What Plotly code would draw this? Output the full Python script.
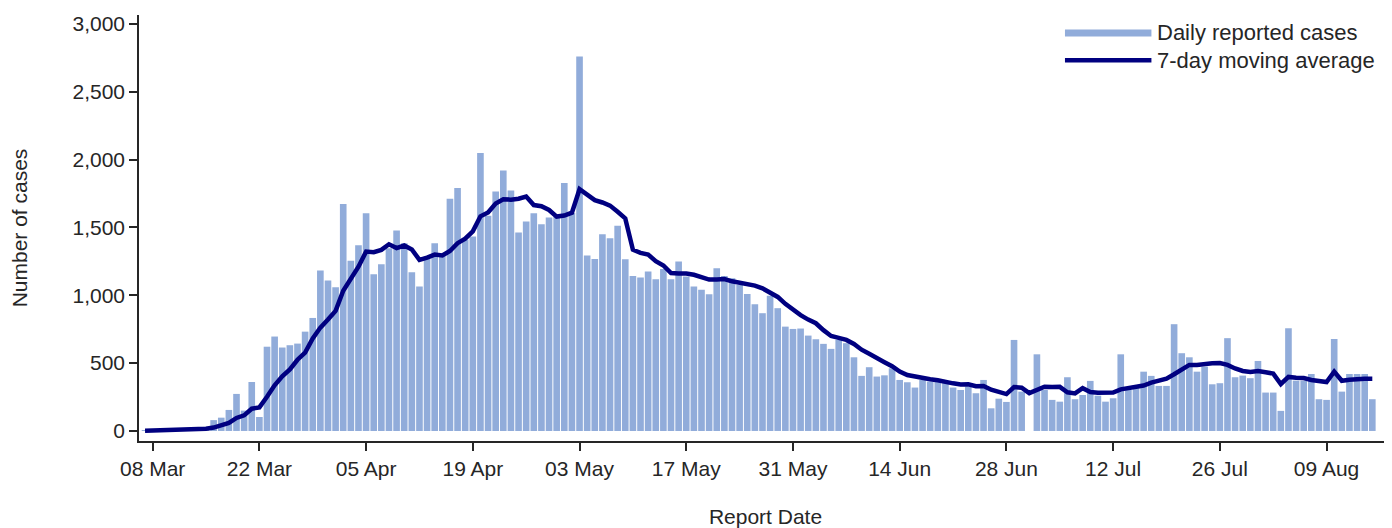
import pandas as pd
import plotly.graph_objects as go

# Daily reported cases, 07 Mar - 15 Aug 2020
start_date = "2020-03-07"
cases_mar = [3, 5, 6, 8, 10, 12, 15, 20, 30, 80, 98, 155, 273, 150, 361, 103, 621, 696,
             615, 632, 644, 732, 833, 1182, 1109]
cases_apr = [1060, 1672, 1254, 1369, 1605, 1155, 1229, 1347, 1477, 1384,
             1170, 1064, 1273, 1384, 1298, 1711, 1790, 1409, 1433, 2048,
             1586, 1765, 1920, 1772, 1463, 1544, 1605, 1524, 1573, 1580]
cases_may = [1827, 1607, 2760, 1293, 1268, 1450, 1421, 1512, 1266, 1143,
             1131, 1175, 1119, 1193, 1119, 1249, 1138, 1064, 1040, 1008,
             1200, 1143, 1126, 1077, 1010, 934, 868, 996, 905, 769, 752]
cases_jun = [755, 703, 676, 642, 605, 671, 647, 543, 406, 470,
             401, 410, 462, 376, 359, 320, 376, 364, 364, 357,
             320, 302, 327, 278, 376, 167, 238, 214, 671, 290]
cases_jul = [0, 565, 302, 229, 216, 396, 234, 265, 369, 260,
             216, 241, 565, 307, 322, 437, 406, 332, 332, 787,
             573, 543, 437, 474, 344, 352, 684, 396, 408, 389, 516]
cases_aug = [283, 283, 148, 757, 371, 371, 420, 234, 229, 678,
             290, 420, 420, 420, 234]

# 7-day moving average line
avg_mar = [2, 3, 4, 5, 6, 8, 10, 12, 16, 25, 38, 59, 96, 115, 164, 174, 252, 337,
           403, 454, 525, 578, 682, 762, 821]
avg_apr = [885, 1033, 1120, 1211, 1322, 1318, 1335, 1376, 1348, 1367,
           1338, 1261, 1278, 1300, 1293, 1326, 1384, 1418, 1471, 1582,
           1611, 1677, 1707, 1705, 1712, 1728, 1665, 1656, 1629, 1580]
avg_may = [1588, 1609, 1782, 1738, 1701, 1684, 1661, 1616, 1567, 1336,
           1313, 1300, 1252, 1220, 1164, 1161, 1161, 1151, 1132, 1116,
           1117, 1120, 1103, 1094, 1086, 1071, 1051, 1022, 988, 937, 891]
avg_jun = [854, 821, 794, 743, 700, 686, 671, 641, 599, 569,
           535, 507, 477, 438, 412, 400, 386, 381, 374, 359,
           351, 343, 344, 330, 332, 304, 287, 272, 324, 319]
avg_jul = [279, 306, 326, 324, 325, 285, 277, 315, 287, 281,
           279, 283, 307, 318, 326, 335, 356, 373, 386, 418,
           456, 487, 487, 497, 499, 501, 487, 461, 442, 435, 441]
avg_aug = [433, 423, 346, 398, 392, 390, 376, 369, 361, 437,
           370, 377, 384, 384, 384]

tick_dates = ["2020-03-08", "2020-03-22", "2020-04-05", "2020-04-19", "2020-05-03",
              "2020-05-17", "2020-05-31", "2020-06-14", "2020-06-28", "2020-07-12",
              "2020-07-26", "2020-08-09"]
y_ticks = [0, 500, 1000, 1500, 2000, 2500, 3000]
legend_labels = ["Daily reported cases", "7-day moving average"]

cases = cases_mar + cases_apr + cases_may + cases_jun + cases_jul + cases_aug
avg = avg_mar + avg_apr + avg_may + avg_jun + avg_jul + avg_aug
dates = pd.date_range(start_date, periods=len(cases), freq="D")

BAR_COLOR = "rgb(145,172,218)"
LINE_COLOR = "#000080"
TEXT_COLOR = "#262626"
FONT = "Liberation Sans, Arial, sans-serif"

fig = go.Figure()
fig.add_trace(go.Bar(x=dates, y=cases, marker=dict(color=BAR_COLOR, line_width=0),
                     name=legend_labels[0], showlegend=False))
fig.add_trace(go.Scatter(x=dates, y=avg, mode="lines",
                         line=dict(color=LINE_COLOR, width=4.5),
                         name=legend_labels[1], showlegend=False))

# Legend drawn as long line samples + labels (as in the original)
legend_rows = [(0.958, BAR_COLOR, 7), (0.894, LINE_COLOR, 4.5)]
for (ly, col, w), label in zip(legend_rows, legend_labels):
    fig.add_shape(type="line", xref="paper", yref="paper",
                  x0=0.739, x1=0.808, y0=ly, y1=ly,
                  line=dict(color=col, width=w))
    fig.add_annotation(xref="paper", yref="paper", x=0.811, y=ly,
                       xanchor="left", yanchor="middle", showarrow=False,
                       text=label, font=dict(size=22, color=TEXT_COLOR))

# the page body adds an 8px offset; sizes/margins compensate for it
fig.update_layout(
    width=1384, height=520,
    margin=dict(l=131, r=0, t=7, b=87),
    paper_bgcolor="white", plot_bgcolor="white",
    bargap=0.13,
    showlegend=False,
    font=dict(family=FONT, size=21, color=TEXT_COLOR),
    xaxis=dict(
        type="date", automargin=False,
        range=["2020-03-06 05:00", "2020-08-17 14:00"],
        tickvals=tick_dates, tickformat="%d %b",
        ticks="outside", ticklen=8, tickwidth=1.5, tickcolor=TEXT_COLOR,
        showline=True, linecolor=TEXT_COLOR, linewidth=1.5,
        showgrid=False, zeroline=False,
        title=dict(text="Report Date", font=dict(size=21), standoff=30),
    ),
    yaxis=dict(
        automargin=False,
        range=[-74, 3066],
        tickvals=y_ticks, tickformat=",",
        ticks="outside", ticklen=8, tickwidth=1.5, tickcolor=TEXT_COLOR,
        showline=True, linecolor=TEXT_COLOR, linewidth=1.5,
        showgrid=False, zeroline=False,
        title=dict(text="Number of cases", font=dict(size=21), standoff=43),
    ),
)

fig.write_html("out.html")
